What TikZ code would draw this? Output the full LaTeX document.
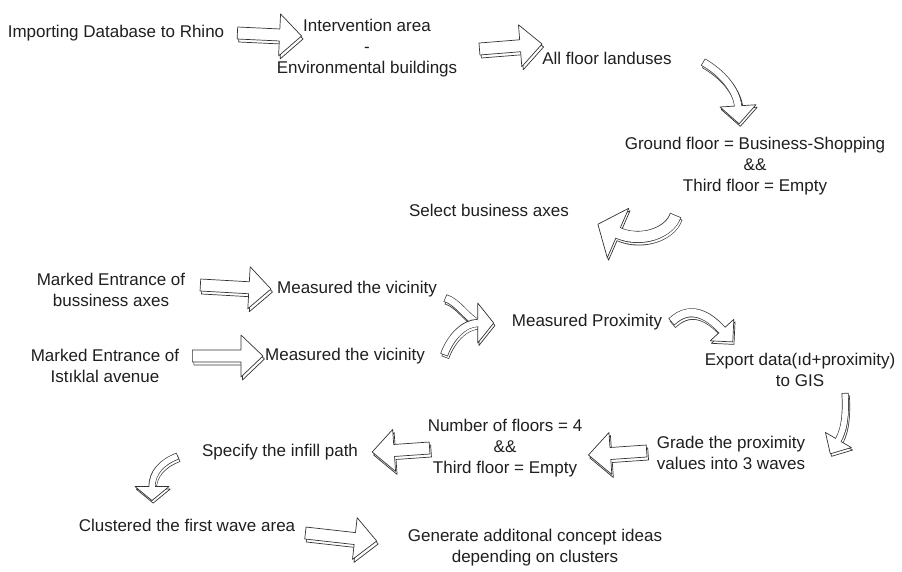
\documentclass[tikz,border=0pt]{standalone}
\usepackage{fontspec}
\setmainfont{Liberation Sans}
\usetikzlibrary{calc}

\tikzset{
  stage/.style={font=\fontsize{17}{21}\selectfont, inner sep=0pt, align=center, text=black!88},
  arrow line/.style={draw=black!80, line width=0.7pt, fill=white, line join=round}
}

% straight block arrow, drawn twice for the depth
\newcommand\blockshape[1]{%
  \filldraw[arrow line,#1] ($(ba-t)!6pt!90:(ba-p)$) -- ($(ba-b)!6pt!90:(ba-p)$)
    -- ($(ba-b)!21pt!90:(ba-p)$) -- (ba-p) -- ($(ba-b)!21pt!-90:(ba-p)$)
    -- ($(ba-b)!6pt!-90:(ba-p)$) -- ($(ba-t)!6pt!-90:(ba-p)$) -- cycle;}
\newcommand\blockarrow[2]{%
  \path #1 coordinate (ba-t) #2 coordinate (ba-p);
  \coordinate (ba-b) at ($(ba-p)!22pt!(ba-t)$);
  \blockshape{transform canvas={shift={(1.5pt,-3pt)}}}
  \blockshape{}}

% bent arrow: shaft width, head half width, head length, start, c1, c2, end
\newcommand\stemlines[3]{%
  \draw[draw=black!80, line width=#1] (bt-s) .. controls +#2 and +#3 .. (bt-e);
  \draw[white, line width=#1-1.4pt, shorten <=0.7pt, shorten >=-1pt] (bt-s) .. controls +#2 and +#3 .. (bt-e);}
\newcommand\headshape[2]{%
  \filldraw[arrow line] ($(bt-e)!#1!90:(bt-c)$) -- ($(bt-e)!#2!180:(bt-c)$) -- ($(bt-e)!#1!-90:(bt-c)$) -- cycle;}
\newcommand\bentarrow[7]{%
  \path #4 coordinate (bt-s) #7 coordinate (bt-e);
  \coordinate (bt-c) at ($(bt-e)+#6$);
  \begin{scope}[transform canvas={shift={(1.2pt,-2.5pt)}}]
    \headshape{#2}{#3}\stemlines{#1}{#5}{#6}
  \end{scope}
  \headshape{#2}{#3}\stemlines{#1}{#5}{#6}}
\newcommand\bentstem[5]{%
  \path #2 coordinate (bt-s) #5 coordinate (bt-e);
  \begin{scope}[transform canvas={shift={(1.2pt,-2.5pt)}}]
    \stemlines{#1}{#3}{#4}
  \end{scope}
  \stemlines{#1}{#3}{#4}}

\begin{document}
\begin{tikzpicture}[x=1pt, y=-1pt]
  \useasboundingbox[fill=white] (0,0) rectangle (902,571);

  \node[stage] (import)   at (116,33)  {Importing Database to Rhino};
  \node[stage] (interv)   at (367,48)  {Intervention area\\-\\Environmental buildings};
  \node[stage] (allfloor) at (607,58)  {All floor landuses};
  \node[stage] (ground)   at (755,166) {Ground floor = Business-Shopping\\\&\&\\Third floor = Empty};
  \node[stage] (select)   at (489,210) {Select business axes};
  \node[stage] (markbus)  at (111,290) {Marked Entrance of\\bussiness axes};
  \node[stage] (vicin1)   at (357,289) {Measured the vicinity};
  \node[stage] (markist)  at (105,366) {Marked Entrance of\\Istıklal avenue};
  \node[stage] (vicin2)   at (345,356) {Measured the vicinity};
  \node[stage] (proxim)   at (587,322) {Measured Proximity};
  \node[stage] (export)   at (800,370) {Export data(ıd+proximity)\\to GIS};
  \node[stage] (grade)    at (731,453) {Grade the proximity\\values into 3 waves};
  \node[stage] (floors)   at (505,448) {Number of floors = 4\\\&\&\\Third floor = Empty};
  \node[stage] (infill)   at (280,452) {Specify the infill path};
  \node[stage] (cluster)  at (187,525) {Clustered the first wave area};
  \node[stage] (generate) at (535,548) {Generate additonal concept ideas\\depending on clusters};

  \blockarrow{($(import.east)+(13,0)$)}{($(interv.west)+(25,-12)$)}
  \blockarrow{($(interv.east)+(22,1)$)}{($(allfloor.west)+(0,-14)$)}
  \bentarrow{8pt}{18pt}{18pt}{($(allfloor.east)+(31,4)$)}{(18,10)}{(-1,-16)}{($(ground.north)+(-17,-31)$)}
  \bentarrow{12pt}{27pt}{22pt}{($(ground.south west)+(51,20)$)}{(-6,18)}{(23,10)}{($(select.east)+(49,23)$)}

  \blockarrow{($(markbus.east)+(15,-5)$)}{($(vicin1.west)+(-6,0)$)}
  \blockarrow{($(markist.east)+(13,-10)$)}{($(vicin2.west)+(-2,0)$)}
  \bentstem{8pt}{($(vicin1.east)+(8,9)$)}{(13,4)}{(-11,-5)}{($(proxim.west)+(-34,1)$)}
  \bentarrow{8pt}{20pt}{16pt}{($(vicin2.east)+(19,-1)$)}{(6,-17)}{(-14,0)}{($(proxim.west)+(-34,1)$)}

  \bentarrow{9pt}{16pt}{16pt}{($(proxim.east)+(9,0)$)}{(21,-20)}{(-10,-11)}{($(export.north)+(-78,-23)$)}
  \bentarrow{7pt}{15pt}{16pt}{($(export.south)+(45,6)$)}{(1,17)}{(7,-12)}{($(grade.east)+(33,-13)$)}

  \blockarrow{($(grade.west)+(-10,-2)$)}{($(floors.east)+(6,7)$)}
  \blockarrow{($(floors.west)+(2,0)$)}{($(infill.east)+(14,0)$)}
  \bentarrow{7pt}{17pt}{14pt}{($(infill.west)+(-24,4)$)}{(-16,6)}{(0,-14)}{($(cluster.north)+(-35,-32)$)}
  \blockarrow{($(cluster.east)+(10,8)$)}{($(generate.west)+(-31,-7)$)}
\end{tikzpicture}
\end{document}
